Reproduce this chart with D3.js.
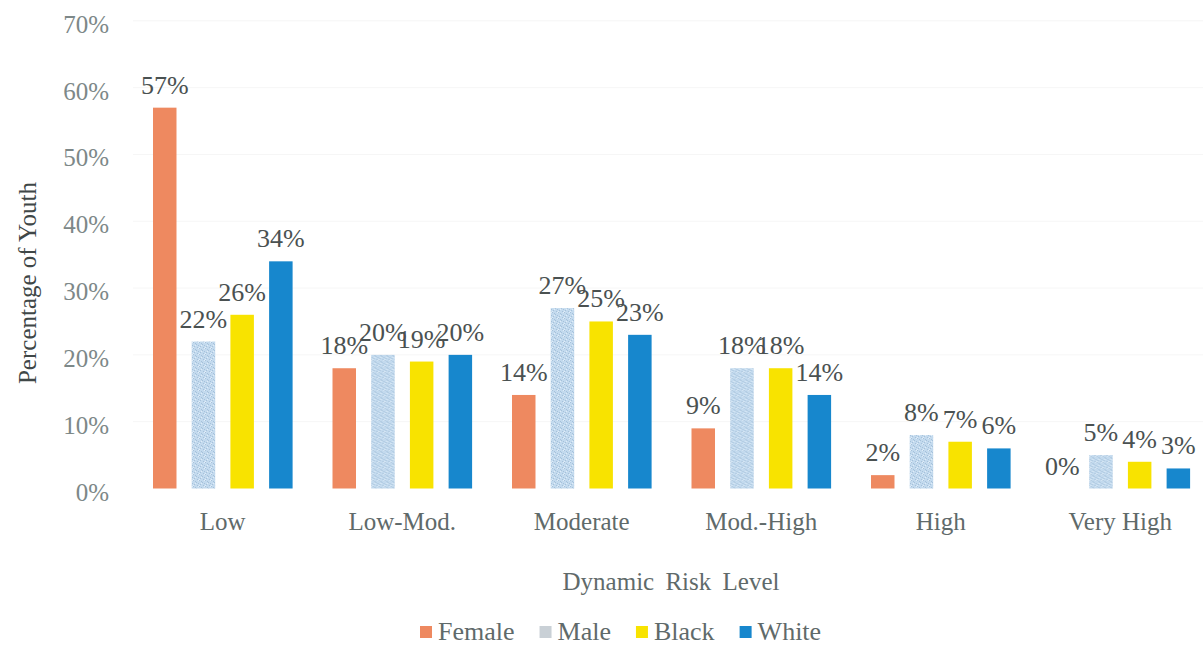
<!DOCTYPE html>
<html>
<head>
<meta charset="utf-8">
<script src="https://cdn.jsdelivr.net/npm/d3@7"></script>
<style>
  body { margin: 0; background: #fff; }
  svg { display: block; }
  text { font-family: "Liberation Serif", "DejaVu Serif", serif; }
</style>
</head>
<body>
<svg id="chart" width="1203" height="646"></svg>
<script>
// Risk level categories and percentage of youth per group
const categories = ["Low", "Low-Mod.", "Moderate", "Mod.-High", "High", "Very High"];
const seriesNames = ["Female", "Male", "Black", "White"];
const female = [57, 18, 14, 9, 2, 0];
const male   = [22, 20, 27, 18, 8, 5];
const black  = [26, 19, 25, 18, 7, 4];
const white  = [34, 20, 23, 14, 6, 3];
const yTicks = [0, 10, 20, 30, 40, 50, 60, 70];

const seriesValues = { Female: female, Male: male, Black: black, White: white };
const colors = { Female: "#ee8960", Male: "url(#maleFill)", Black: "#f8e300", White: "#1787cd" };
const swatchColors = { Female: "#ee8960", Male: "#c9d0d6", Black: "#f8e300", White: "#1787cd" };

const svg = d3.select("#chart");

// speckled light-blue fill for the Male bars
const defs = svg.append("defs");
const pat = defs.append("pattern")
  .attr("id", "maleFill").attr("patternUnits", "userSpaceOnUse")
  .attr("width", 6).attr("height", 6);
pat.append("rect").attr("width", 6).attr("height", 6).attr("fill", "#c3daee");
[[0,0],[3,2],[1,4],[5,3],[4,5],[2,1]].forEach(([px, py]) => {
  pat.append("rect").attr("x", px).attr("y", py).attr("width", 1).attr("height", 1).attr("fill", "#a6c1da");
});
[[2,3],[5,0],[0,5]].forEach(([px, py]) => {
  pat.append("rect").attr("x", px).attr("y", py).attr("width", 1).attr("height", 1).attr("fill", "#e1edf8");
});

const x0 = d3.scaleBand().domain(categories).range([133, 1210]).paddingInner(0).paddingOuter(0);
const x1 = d3.scaleBand().domain(seriesNames).range([20, 159.6]).paddingInner(0.393).paddingOuter(0);
const y = d3.scaleLinear().domain([0, 70]).range([488.5, 20.8]);

// faint horizontal gridlines
svg.append("g").selectAll("line").data(yTicks.slice(1)).join("line")
  .attr("x1", 133).attr("x2", 1210)
  .attr("y1", d => y(d)).attr("y2", d => y(d))
  .attr("stroke", "#f6f6f6").attr("stroke-width", 1);

// y tick labels
svg.append("g").selectAll("text").data(yTicks).join("text")
  .attr("x", 109).attr("y", d => y(d) + 12)
  .attr("text-anchor", "end")
  .attr("font-size", 25)
  .attr("fill", "#7d8888")
  .text(d => d + "%");

// bars with value labels
const groups = svg.append("g").selectAll("g").data(categories).join("g")
  .attr("transform", c => `translate(${x0(c)},0)`);

groups.each(function(c, i) {
  const g = d3.select(this);
  seriesNames.forEach(s => {
    const v = seriesValues[s][i];
    g.append("rect")
      .attr("x", x1(s))
      .attr("y", y(v))
      .attr("width", x1.bandwidth())
      .attr("height", y(0) - y(v))
      .attr("fill", colors[s])
      .attr("stroke", s === "Female" && v === 0 ? "#f0b89e" : "none")
      .attr("stroke-width", 1.5);
    g.append("text")
      .attr("x", x1(s) + x1.bandwidth() / 2)
      .attr("y", y(v) - 14)
      .attr("text-anchor", "middle")
      .attr("font-size", 26)
      .attr("fill", "#4a5151")
      .text(v + "%");
  });
});

// category labels
svg.append("g").selectAll("text").data(categories).join("text")
  .attr("x", c => x0(c) + x0.bandwidth() / 2)
  .attr("y", 530)
  .attr("text-anchor", "middle")
  .attr("font-size", 25)
  .attr("fill", "#5f6a6a")
  .text(c => c);

// axis titles
svg.append("text")
  .attr("transform", "translate(36,283) rotate(-90)")
  .attr("text-anchor", "middle")
  .attr("font-size", 25)
  .attr("fill", "#3f4747")
  .text("Percentage of Youth");

svg.append("text")
  .attr("x", 671).attr("y", 590)
  .attr("text-anchor", "middle")
  .attr("font-size", 25)
  .attr("fill", "#5f6a6a")
  .attr("word-spacing", 5)
  .text("Dynamic Risk Level");

// legend
const legend = svg.append("g");
let lx = 420;
seriesNames.forEach(s => {
  legend.append("rect")
    .attr("x", lx).attr("y", 626)
    .attr("width", 12).attr("height", 12)
    .attr("fill", swatchColors[s]);
  const t = legend.append("text")
    .attr("x", lx + 18).attr("y", 640)
    .attr("font-size", 26)
    .attr("fill", "#5f6a6a")
    .text(s);
  lx += 18 + t.node().getComputedTextLength() + 25;
});
</script>
</body>
</html>
